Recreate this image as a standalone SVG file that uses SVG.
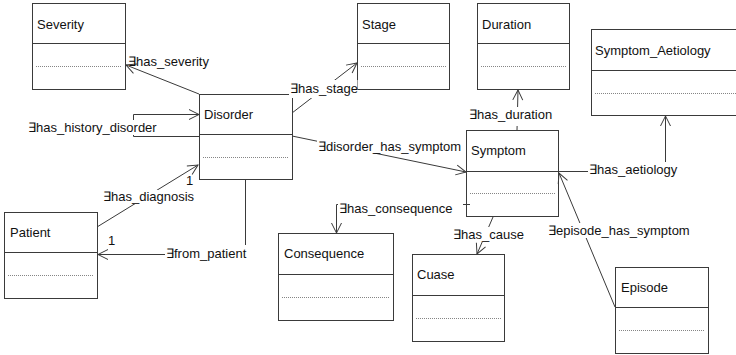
<svg xmlns="http://www.w3.org/2000/svg" width="736" height="355" viewBox="0 0 736 355">
<style>
.box{fill:#fff;stroke:#3a3a3a;stroke-width:1}
.div{stroke:#3a3a3a;stroke-width:1}
.dot{stroke:#666;stroke-width:0.8;stroke-dasharray:1 1}
.t{font-family:"Liberation Sans",Arial,sans-serif;font-size:13px;fill:#111}
.c{fill:none;stroke:#3a3a3a;stroke-width:1}
.bg{fill:#fff}
</style>
<defs>
<marker id="a" markerUnits="userSpaceOnUse" markerWidth="12" markerHeight="12" refX="11" refY="6" orient="auto" viewBox="0 0 12 12">
<path d="M1,1 L11,6 L1,11" fill="none" stroke="#3a3a3a" stroke-width="1"/>
</marker>
</defs>
<rect width="736" height="355" fill="#fff"/>

<g id="Severity"><rect class="box" x="32.5" y="3.5" width="93" height="86"/><line class="div" x1="32.5" y1="43.5" x2="125.5" y2="43.5"/><line class="dot" x1="36" y1="66.5" x2="122" y2="66.5"/><text class="t" x="37" y="29">Severity</text></g>
<g id="Stage"><rect class="box" x="357.5" y="3.5" width="92" height="86"/><line class="div" x1="357.5" y1="43.5" x2="449.5" y2="43.5"/><line class="dot" x1="361" y1="66.5" x2="446" y2="66.5"/><text class="t" x="362" y="29">Stage</text></g>
<g id="Duration"><rect class="box" x="477.5" y="3.5" width="92" height="86"/><line class="div" x1="477.5" y1="43.5" x2="569.5" y2="43.5"/><line class="dot" x1="481" y1="66.5" x2="566" y2="66.5"/><text class="t" x="482" y="29">Duration</text></g>
<g id="Symptom_Aetiology"><rect class="box" x="591.5" y="29.5" width="150" height="86"/><line class="div" x1="591.5" y1="70.5" x2="741" y2="70.5"/><line class="dot" x1="595" y1="93.5" x2="736" y2="93.5"/><text class="t" x="595" y="55">Symptom_Aetiology</text></g>
<g id="Disorder"><rect class="box" x="199.5" y="94.5" width="93" height="85"/><line class="div" x1="199.5" y1="134.5" x2="292.5" y2="134.5"/><line class="dot" x1="203" y1="157.5" x2="289" y2="157.5"/><text class="t" x="204" y="119">Disorder</text></g>
<g id="Symptom"><rect class="box" x="466.5" y="130.5" width="92" height="86"/><line class="div" x1="466.5" y1="171.5" x2="558.5" y2="171.5"/><line class="dot" x1="470" y1="193.5" x2="555" y2="193.5"/><text class="t" x="471" y="155">Symptom</text></g>
<g id="Patient"><rect class="box" x="4.5" y="212.5" width="93" height="86"/><line class="div" x1="4.5" y1="252.5" x2="97.5" y2="252.5"/><line class="dot" x1="8" y1="275.5" x2="94" y2="275.5"/><text class="t" x="10" y="237">Patient</text></g>
<g id="Consequence"><rect class="box" x="278.5" y="233.5" width="115" height="87"/><line class="div" x1="278.5" y1="274.5" x2="393.5" y2="274.5"/><line class="dot" x1="282" y1="297.5" x2="390" y2="297.5"/><text class="t" x="284" y="258">Consequence</text></g>
<g id="Cuase"><rect class="box" x="412.5" y="254.5" width="92" height="87"/><line class="div" x1="412.5" y1="295.5" x2="504.5" y2="295.5"/><line class="dot" x1="416" y1="318.5" x2="501" y2="318.5"/><text class="t" x="417" y="279">Cuase</text></g>
<g id="Episode"><rect class="box" x="615.5" y="267.5" width="93" height="86"/><line class="div" x1="615.5" y1="307.5" x2="708.5" y2="307.5"/><line class="dot" x1="619" y1="330.5" x2="705" y2="330.5"/><text class="t" x="621" y="292">Episode</text></g>

<g id="connectors">
<line class="c" x1="199" y1="94" x2="126" y2="65" marker-end="url(#a)"/>
<text class="t" x="128" y="66">∃has_severity</text>

<line class="c" x1="292" y1="113" x2="357" y2="63" marker-end="url(#a)"/>
<rect class="bg" x="289" y="80" width="68.5" height="18"/>
<text class="t" x="290" y="93">∃has_stage</text>

<path class="c" d="M199,136.5 H133.5 V114.5 H199" marker-end="url(#a)"/>
<rect class="bg" x="27" y="120" width="137" height="15"/>
<text class="t" x="28" y="132">∃has_history_disorder</text>

<line class="c" x1="292" y1="136" x2="466" y2="172" marker-end="url(#a)"/>
<rect class="bg" x="317" y="139" width="146" height="14"/>
<text class="t" x="318" y="151">∃disorder_has_symptom</text>

<line class="c" x1="517" y1="130" x2="518" y2="90" marker-end="url(#a)"/>
<rect class="bg" x="468" y="107" width="69" height="19"/>
<text class="t" x="469" y="119">∃has_duration</text>

<path class="c" d="M558.5,171.5 H665.5 V116" marker-end="url(#a)"/>
<rect class="bg" x="588" y="162" width="90" height="15"/>
<text class="t" x="589" y="174">∃has_aetiology</text>

<line class="c" x1="615" y1="307" x2="559" y2="173" marker-end="url(#a)"/>
<rect class="bg" x="547" y="223" width="144" height="15"/>
<text class="t" x="548" y="235">∃episode_has_symptom</text>

<path class="c" d="M470,204.5 H336.5 V233" marker-end="url(#a)"/>
<rect class="bg" x="338" y="201" width="125" height="15"/>
<text class="t" x="339" y="213">∃has_consequence</text>

<line class="c" x1="493" y1="217" x2="477" y2="254" marker-end="url(#a)"/>
<rect class="bg" x="452" y="227" width="67" height="15"/>
<text class="t" x="453" y="239">∃has_cause</text>

<line class="c" x1="97" y1="227" x2="198" y2="165" marker-end="url(#a)"/>
<rect class="bg" x="102" y="190" width="91" height="14"/>
<text class="t" x="103" y="201">∃has_diagnosis</text>
<text class="t" x="186" y="185">1</text>

<path class="c" d="M245.5,179 V254.5 H98" marker-end="url(#a)"/>
<rect class="bg" x="165" y="245" width="87" height="16"/>
<text class="t" x="166" y="258">∃from_patient</text>
<text class="t" x="108" y="245">1</text>
</g>
</svg>
